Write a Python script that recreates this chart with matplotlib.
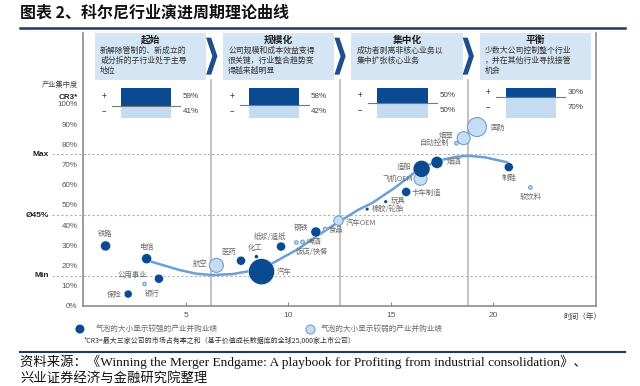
import matplotlib
matplotlib.use('Agg')
import matplotlib.pyplot as plt
from matplotlib.patches import Rectangle, Polygon
from matplotlib.lines import Line2D

plt.rcParams['font.family'] = ['Noto Sans CJK SC', 'DejaVu Sans']

# ---------------- data ----------------
stage_titles = ['起始', '规模化', '集中化', '平衡']
stage_desc = ['新解除管制的、新成立的\n或分拆的子行业处于主导\n地位',
              '公司规模和成本效益变得\n很关键，行业整合趋势变\n得越来越明显',
              '成功者剥离非核心业务以\n集中扩张核心业务',
              '少数大公司控制整个行业\n，并在其他行业寻找接管\n机会']
stage_bounds = [0, 6.25, 12.5, 18.75, 25]
cr3_plus = [59, 58, 50, 30]
cr3_minus = [41, 42, 50, 70]

ref_levels = [75, 45, 15]
ref_labels = ['Max', 'Ø45%', 'Min']

dark_names = ['铁路', '电信', '公用事业', '保险', '医药', '化工', '汽车', '纸浆/造纸', '钢铁',
              '橡胶/轮胎', '玩具', '卡车制造', '造船', '烟酒', '制鞋']
dark_x = [1.1, 3.1, 3.7, 2.2, 7.7, 8.45, 8.7, 9.65, 11.35, 13.85, 14.75, 15.75, 16.5, 17.25, 20.75]
dark_y = [29.7, 23.4, 13.5, 5.9, 22.4, 24.4, 17.0, 29.4, 36.6, 47.9, 51.6, 56.4, 67.8, 71.0, 68.7]
dark_r = [5, 5, 4.5, 4, 4.5, 2, 13, 4.5, 5, 1.8, 1.8, 4.5, 8.5, 6, 4.5]

light_names = ['银行', '航空', '啤酒', '饭店/快餐', '食品', '汽车OEM', '飞机OEM', '自动控制', '烟草', '国防', '软饮料']
light_x = [3.0, 6.5, 10.7, 10.4, 11.8, 12.45, 16.45, 18.2, 18.55, 19.2, 21.8]
light_y = [10.9, 20.1, 31.7, 31.4, 38.1, 42.2, 62.9, 80.5, 83.0, 88.5, 58.6]
light_r = [1.8, 7, 1.8, 1.8, 1.8, 4.7, 6.5, 1.8, 6.5, 9.5, 1.8]

curve_x = [3.3, 4.7, 5.5, 6.3, 7.3, 8.3, 9.3, 10.4, 12.0, 13.4, 14.1, 15.2, 16.2, 17.0, 17.5, 18.2, 18.8, 19.6, 20.7]
curve_y = [22.0, 17.8, 16.0, 15.3, 15.8, 17.6, 21.5, 27.7, 38.6, 47.5, 51.0, 58.5, 66.3, 70.5, 72.3, 73.8, 74.3, 73.5, 71.0]

x_ticks = [5, 10, 15, 20]
y_ticks = [0, 10, 20, 30, 40, 50, 60, 70, 80, 90, 100]

# label placement (offset in pixels, horizontal alignment)
label_pos = {
    '铁路': (0, 12, 'center'), '电信': (0, 11.7, 'center'), '公用事业': (-12, 4, 'right'),
    '银行': (8, -10, 'center'), '保险': (-7, -1, 'right'), '航空': (-9, 1, 'right'),
    '医药': (-12, 8.4, 'center'), '化工': (-1.7, 8.4, 'center'), '汽车': (15, 0, 'left'),
    '纸浆/造纸': (-11, 9.4, 'center'), '钢铁': (-14.5, 3.7, 'center'), '啤酒': (3.7, 0, 'left'),
    '饭店/快餐': (16, -9, 'center'), '食品': (4, -1, 'left'), '汽车OEM': (7.7, -2.6, 'left'),
    '橡胶/轮胎': (4.4, 0, 'left'), '玩具': (5.3, 1, 'left'), '卡车制造': (5.7, -0.7, 'left'),
    '飞机OEM': (-7.7, 0, 'right'), '造船': (-10.3, 1.7, 'right'), '烟酒': (9.4, 0, 'left'),
    '烟草': (-17.8, 2.3, 'center'), '自动控制': (-6.7, 0, 'right'), '国防': (13.4, -1, 'left'),
    '制鞋': (0, -11, 'center'), '软饮料': (0, -9.6, 'center'),
}

# ---------------- styles ----------------
navy = '#0a4a90'
light_fill = '#c7ddf3'
light_edge = '#6f9fd3'
box_fill = '#d5e5f4'
curve_c = '#6a9fd8'
gray_txt = '#6b6b6b'
spine_c = '#8c8c8c'

fig = plt.figure(figsize=(6.4, 3.86), dpi=100)
ax = fig.add_axes([83/640, 80/386, (596-83)/640, (306-33)/386])
ax.set_xlim(0, 25)
ax.set_ylim(0, 135)
ax.spines['top'].set_visible(False)
for s in ['left', 'right', 'bottom']:
    ax.spines[s].set_color(spine_c)
    ax.spines[s].set_linewidth(1.2)

ax.set_yticks(y_ticks)
ax.set_yticklabels([f'{v}%' for v in y_ticks], family=['Liberation Sans', 'DejaVu Sans'])
ax.tick_params(axis='y', length=0, pad=4, labelsize=5.8, labelcolor='#555555')
ax.set_xticks(x_ticks)
ax.set_xticklabels([str(v) for v in x_ticks], family=['Liberation Sans', 'DejaVu Sans'])
ax.tick_params(axis='x', direction='in', length=3, color=spine_c, pad=4, labelsize=6, labelcolor='#555555')

# reference lines
for lv, lb in zip(ref_levels, ref_labels):
    ax.plot([-1.5, 25], [lv, lv], ls=(0, (2, 2)), color='#a9b3c4', lw=0.8, clip_on=False, zorder=1)
    ax.text(-1.65, lv, lb, ha='right', va='center', fontsize=6, weight='bold',
            family=['Liberation Sans', 'DejaVu Sans'], color='#222222')

# separators
for b in stage_bounds[1:-1]:
    ax.plot([b, b], [0, 112], color='#b8b8b8', lw=1.2, zorder=1)

# stage boxes
box_lo, box_hi = 112, 135
for i in range(4):
    x0 = stage_bounds[i] + 0.58
    x1 = stage_bounds[i+1] - 0.25
    ax.add_patch(Rectangle((x0, box_lo), x1 - x0, box_hi - box_lo, facecolor=box_fill,
                           edgecolor='none', zorder=2, clip_on=False))
    ax.text((x0 + x1) / 2, 131.5, stage_titles[i], ha='center', va='center', fontsize=7,
            weight='bold', color='#1a1a1a', zorder=3)
    ax.text(x0 + 0.25, 128.5, stage_desc[i], ha='left', va='top', fontsize=5.7,
            color='#333333', linespacing=1.15, zorder=3)
    if i < 3:
        c = stage_bounds[i+1]
        xa, xb = c - 0.25, c + 0.3
        w = xb - xa
        ytop, ybot = 132.7, 114.4
        ymid = (ytop + ybot) / 2
        ax.add_patch(Polygon([(xa, ytop), (xa + w*0.45, ytop), (xb, ymid), (xa + w*0.45, ybot),
                              (xa, ybot), (xa + w*0.55, ymid)], closed=True,
                             facecolor='#1f4e8c', edgecolor='none', zorder=3, clip_on=False))

# CR3 bars
bar_top, bar_bot = 107.8, 93.0
tot = bar_top - bar_bot
for i in range(4):
    s0 = stage_bounds[i]
    split = bar_top - tot * cr3_plus[i] / 100
    ax.add_patch(Rectangle((s0 + 1.85, split), 2.45, bar_top - split, facecolor='#0b4a91',
                           edgecolor='none', zorder=2))
    ax.add_patch(Rectangle((s0 + 1.85, bar_bot), 2.45, split - bar_bot, facecolor='#c4dbf2',
                           edgecolor='none', zorder=2))
    ax.plot([s0 + 1.4, s0 + 4.75], [split, split], color='#777777', lw=0.8, zorder=3)
    ax.text(s0 + 1.0, (bar_top + split) / 2, '+', ha='center', va='center', fontsize=6, color='#333333')
    ax.text(s0 + 1.0, (bar_bot + split) / 2, '–', ha='center', va='center', fontsize=6, color='#333333')
    ax.text(s0 + 5.25, (bar_top + split) / 2, f'{cr3_plus[i]}%', ha='center', va='center', fontsize=5.8,
            family=['Liberation Sans', 'DejaVu Sans'], color='#444444')
    ax.text(s0 + 5.25, (bar_bot + split) / 2, f'{cr3_minus[i]}%', ha='center', va='center', fontsize=5.8,
            family=['Liberation Sans', 'DejaVu Sans'], color='#444444')

ax.text(-0.25, 109.4, '产业集中度', ha='right', va='center', fontsize=5.2, color='#444444')
ax.text(-0.25, 103.2, 'CR3*', ha='right', va='center', fontsize=5.8, weight='bold',
        family=['Liberation Sans', 'DejaVu Sans'], color='#222222')

# curve
ax.plot(curve_x, curve_y, color=curve_c, lw=1.8, zorder=2, solid_capstyle='round')

def sz(r):
    return (2 * r * 0.72) ** 2

ax.scatter(light_x, light_y, s=[sz(r) for r in light_r], facecolor=light_fill, edgecolor=light_edge,
           linewidth=0.8, zorder=3)
ax.scatter(dark_x, dark_y, s=[sz(r) for r in dark_r], facecolor=navy, edgecolor='white',
           linewidth=0.3, zorder=4)

for names, xs, ys in [(dark_names, dark_x, dark_y), (light_names, light_x, light_y)]:
    for n, x, y in zip(names, xs, ys):
        dx, dy, ha = label_pos[n]
        ax.annotate(n, (x, y), xytext=(dx, dy), textcoords='offset pixels', ha=ha, va='center',
                    fontsize=5.3, color=gray_txt, zorder=5)

# axis title
ax.text(25.25, -5.4, '时间（年）', ha='right', va='center', fontsize=5.5, color='#444444', clip_on=False)

# bottom legend
ax.scatter([-0.15], [-11.4], s=sz(4.5), facecolor=navy, edgecolor='none', clip_on=False)
ax.text(0.63, -11.4, '气泡的大小显示较强的产业并购业绩', ha='left', va='center', fontsize=5.5, color=gray_txt)
ax.scatter([11.07], [-11.4], s=sz(4.5), facecolor=light_fill, edgecolor=light_edge, linewidth=0.8, clip_on=False)
ax.text(11.6, -11.4, '气泡的大小显示较弱的产业并购业绩', ha='left', va='center', fontsize=5.5, color=gray_txt)

# title & footer
fig.text(20/640, 1 - 13/386, '图表 2、科尔尼行业演进周期理论曲线', ha='left', va='center',
         fontsize=11.5, weight='bold', color='#111111')
fig.add_artist(Line2D([20/640, 625/640], [1 - 28/386] * 2, color='#1f3864', lw=1.8))
fig.text(84/640, 1 - 341/386, '*CR3=最大三家公司的市场占有率之和（基于价值成长数据库的全球25,000家上市公司）',
         ha='left', va='center', fontsize=5, color='#333333')
fig.add_artist(Line2D([20/640, 625/640], [1 - 352/386] * 2, color='#1f3864', lw=1.5))
fig.text(20/640, 1 - 362/386,
         '资料来源：《Winning the Merger Endgame: A playbook for Profiting from industrial consolidation》、',
         ha='left', va='center', fontsize=9.6, family=['Liberation Serif', 'Noto Sans CJK SC'], color='#111111')
fig.text(20/640, 1 - 378/386, '兴业证券经济与金融研究院整理', ha='left', va='center', fontsize=9.6,
         family=['Liberation Serif', 'Noto Sans CJK SC'], color='#111111')

fig.savefig('out.png', dpi=100)
